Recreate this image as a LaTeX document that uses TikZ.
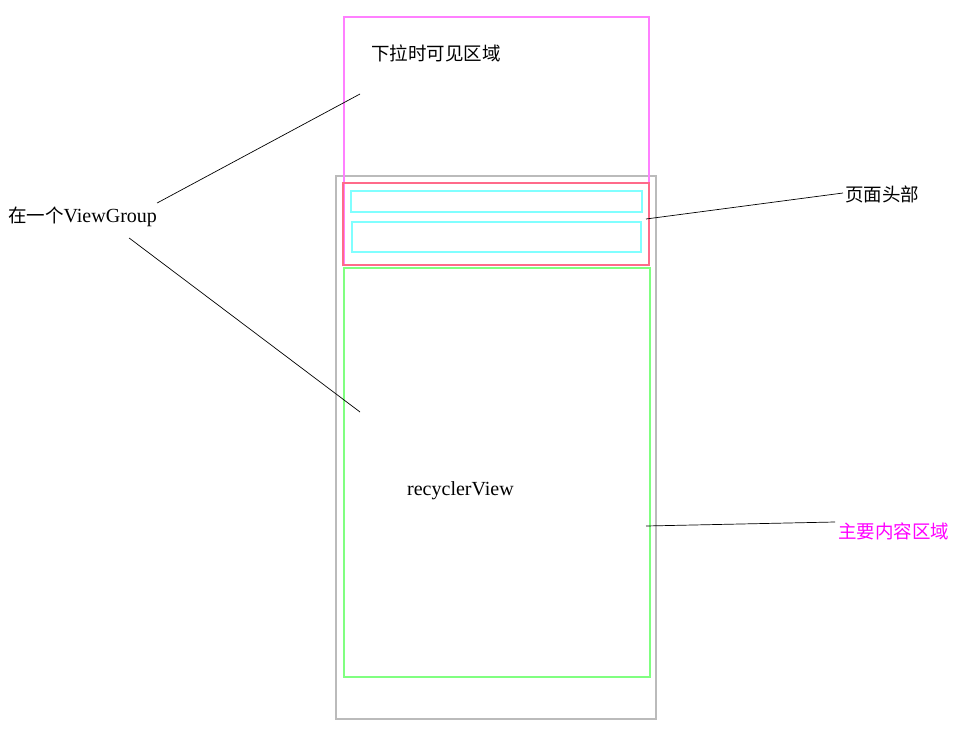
\documentclass[tikz,border=0pt]{standalone}
\usepackage{fontspec}
\setmainfont{Liberation Serif}
\newfontfamily\cjk{Noto Sans CJK SC}
\definecolor{pullpink}{HTML}{FF80FF}
\definecolor{headred}{HTML}{FF6A8A}
\definecolor{outergray}{HTML}{BBBBBB}
\definecolor{rowcyan}{HTML}{80FFFF}
\definecolor{listgreen}{HTML}{80FF80}
\definecolor{notemagenta}{HTML}{FF00FF}

\begin{document}
\begin{tikzpicture}[x=1pt,y=-1pt,
  lbl/.style={anchor=west,inner sep=0pt,font=\fontsize{18.5}{20}\selectfont},
  latin/.style={font=\fontsize{20}{22}\selectfont},
  box/.style={line width=1.3pt},
  lead/.style={line width=0.7pt}]
\useasboundingbox (0,0) rectangle (978,736);
%boxes
\draw[box,outergray] (336,176) rectangle (656,719);
\draw[box,pullpink] (344,17) rectangle (649,265);
\draw[box,headred] (343,183) rectangle (649,265);
\draw[box,rowcyan] (351,191) rectangle (642,212);
\draw[box,rowcyan] (352,222) rectangle (641,252);
\draw[box,listgreen] (344,268) rectangle (650,677);
%texts
\path
(371,53) node[lbl] (pull) {\cjk 下拉时可见区域}
(8,217) node[lbl] (group) {{\cjk 在一个}{\fontsize{20}{22}\selectfont ViewGroup}}
(845,194) node[lbl] (head) {\cjk 页面头部}
(838,531) node[lbl,text=notemagenta] (main) {\cjk 主要内容区域}
(407,491) node[lbl,latin] (recycler) {recyclerView}
(360,94) coordinate (pull-in)
(360,412) coordinate (list-in)
(646,219) coordinate (head-in)
(646,526) coordinate (main-in);
%leaders
\draw[lead] (group.east) ++(0,-14) -- (pull-in);
\draw[lead] (group.east) ++(-28,21) -- (list-in);
\draw[lead] (head.west) ++(-2,-1) -- (head-in);
\draw[lead] (main.west) ++(-3,-9) -- (main-in);
\end{tikzpicture}
\end{document}
